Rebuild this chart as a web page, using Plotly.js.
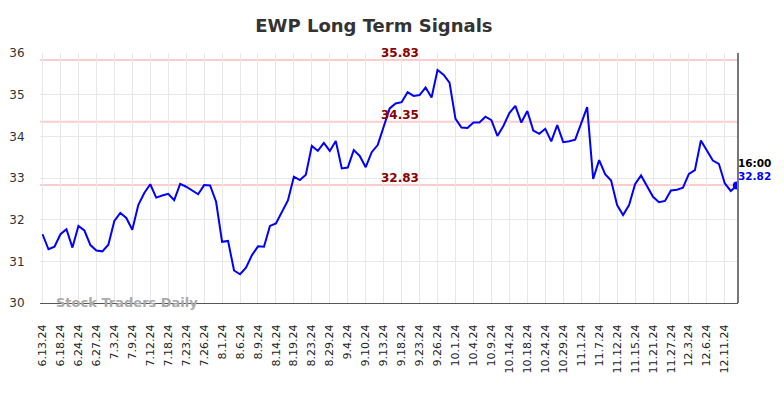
<!DOCTYPE html>
<html>
<head>
<meta charset="utf-8">
<script src="https://cdn.plot.ly/plotly-3.0.1.min.js"></script>
<style>html,body{margin:0;padding:0;background:#fff}#chart{width:784px;height:398px}</style>
</head>
<body>
<div id="chart"></div>
<script>
const tickLabels = ["6.13.24","6.18.24","6.24.24","6.27.24","7.3.24","7.9.24","7.12.24","7.18.24","7.23.24","7.26.24","8.1.24","8.6.24","8.9.24","8.14.24","8.19.24","8.23.24","8.29.24","9.4.24","9.10.24","9.13.24","9.18.24","9.23.24","9.26.24","10.1.24","10.4.24","10.9.24","10.14.24","10.18.24","10.24.24","10.29.24","11.1.24","11.7.24","11.12.24","11.15.24","11.21.24","11.27.24","12.3.24","12.6.24","12.11.24"];
const pointsPerTick = 3;
const prices = [31.65,31.29,31.35,31.65,31.77,31.33,31.85,31.74,31.39,31.26,
31.24,31.40,31.97,32.16,32.04,31.76,32.35,32.64,32.85,32.53,
32.58,32.62,32.47,32.86,32.79,32.70,32.61,32.83,32.82,32.43,
31.47,31.49,30.78,30.69,30.85,31.15,31.36,31.35,31.85,31.91,
32.18,32.46,33.03,32.95,33.08,33.77,33.65,33.84,33.65,33.89,
33.23,33.25,33.67,33.53,33.26,33.62,33.79,34.22,34.67,34.79,
34.82,35.06,34.97,34.99,35.17,34.93,35.59,35.48,35.29,34.42,
34.21,34.20,34.33,34.33,34.47,34.39,34.01,34.25,34.56,34.73,
34.33,34.61,34.14,34.06,34.18,33.88,34.27,33.86,33.88,33.92,
34.29,34.70,32.98,33.43,33.09,32.94,32.35,32.11,32.35,32.85,
33.06,32.81,32.55,32.42,32.45,32.70,32.72,32.77,33.10,33.19,
33.90,33.66,33.42,33.34,32.87,32.69,32.82];
const levels = [35.83, 34.35, 32.83];
const lastTime = "16:00";

const xs = prices.map((_, i) => i);
const tickvals = tickLabels.map((_, k) => k * pointsPerTick);
const lastIdx = prices.length - 1;
const lastVal = prices[lastIdx];

const traces = [
  {x: xs, y: prices, type: 'scatter', mode: 'lines', line: {color: '#0000ff', width: 2}, hoverinfo: 'skip'},
  {x: [lastIdx], y: [lastVal], type: 'scatter', mode: 'markers', marker: {color: '#0000ff', size: 8}, hoverinfo: 'skip'}
];

const shapes = levels.map(v => ({type: 'line', xref: 'paper', x0: 0, x1: 1, yref: 'y', y0: v, y1: v, line: {color: '#ffcccc', width: 2}, layer: 'below'}));
shapes.push({type: 'line', xref: 'paper', x0: 1, x1: 1, yref: 'paper', y0: 0, y1: 1, line: {color: '#777777', width: 2}});

const annotations = levels.map(v => ({xref: 'paper', x: 0.516, yref: 'y', y: v, text: '<b>' + v.toFixed(2) + '</b>', showarrow: false, yanchor: 'middle', yshift: 7, font: {family: 'DejaVu Sans', size: 12, color: '#8b0000'}}));
annotations.push({xref: 'paper', x: 1, xanchor: 'left', xshift: -2, yref: 'y', y: lastVal, yshift: 23, text: '<b>' + lastTime + '</b>', showarrow: false, font: {family: 'DejaVu Sans', size: 10.5, color: '#000000'}});
annotations.push({xref: 'paper', x: 1, xanchor: 'left', xshift: -2, yref: 'y', y: lastVal, yshift: 10, text: '<b>' + lastVal.toFixed(2) + '</b>', showarrow: false, font: {family: 'DejaVu Sans', size: 10.5, color: '#0000ff'}});
annotations.push({xref: 'paper', x: 0.02, xanchor: 'left', yref: 'paper', y: 0, yanchor: 'middle', yshift: 1, text: '<b>Stock Traders Daily</b>', showarrow: false, font: {family: 'DejaVu Sans', size: 13, color: '#aaaaaa'}});

const layout = {
  width: 784, height: 398,
  margin: {l: 39.5, r: 46, t: 53, b: 95, pad: 0},
  paper_bgcolor: '#ffffff', plot_bgcolor: '#ffffff',
  showlegend: false,
  title: {text: '<b>EWP Long Term Signals</b>', x: 0.477, xanchor: 'center', y: 0.935, yanchor: 'middle', font: {family: 'DejaVu Sans', size: 18, color: '#333333'}},
  xaxis: {
    range: [-0.42, 116.2], tickvals: tickvals, ticktext: tickLabels, tickangle: -90,
    showgrid: true, gridcolor: '#e8e8e8', gridwidth: 1, zeroline: false,
    showline: true, linecolor: '#555555', linewidth: 1,
    ticks: 'outside', ticklen: 16, tickcolor: 'rgba(0,0,0,0)',
    tickfont: {family: 'DejaVu Sans', size: 11, color: '#222222'}
  },
  yaxis: {
    range: [30, 36], dtick: 1, tick0: 30,
    showgrid: true, gridcolor: '#e8e8e8', gridwidth: 1, zeroline: false,
    showline: false,
    ticks: 'outside', ticklen: 12, tickcolor: 'rgba(0,0,0,0)',
    tickfont: {family: 'DejaVu Sans', size: 12, color: '#333333'}
  },
  shapes: shapes,
  annotations: annotations
};

Plotly.newPlot('chart', traces, layout, {displayModeBar: false, staticPlot: true});
</script>
</body>
</html>
